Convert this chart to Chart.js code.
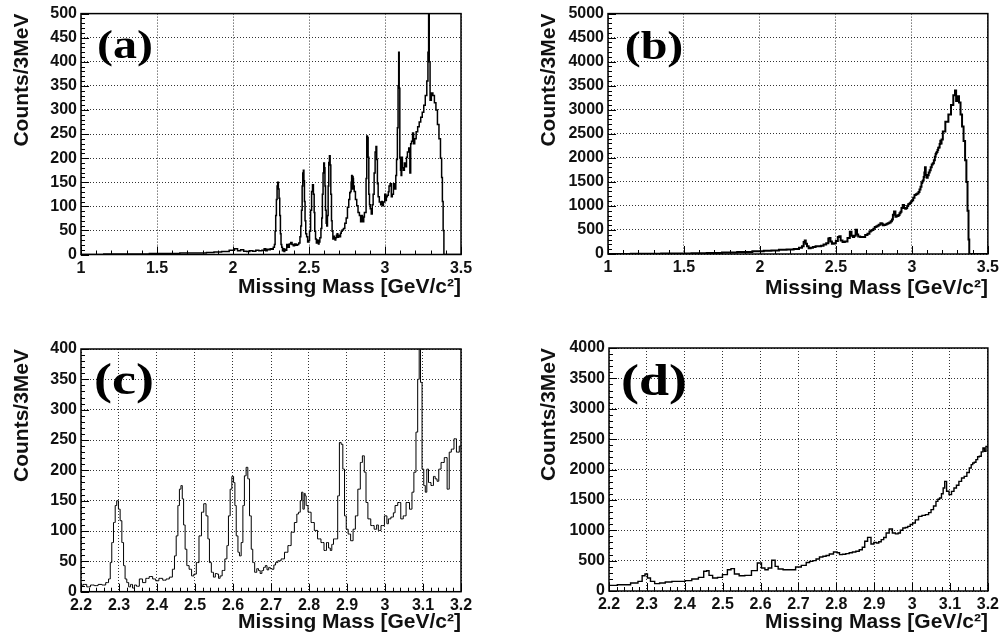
<!DOCTYPE html>
<html lang="en">
<head>
  <meta charset="UTF-8">
  <title>Missing mass spectra</title>
  <script src="https://cdn.jsdelivr.net/npm/chart.js"></script>
  <style>
    body { margin: 0; background: #fff; width: 1003px; height: 641px; position: relative; overflow: hidden; }
    canvas { position: absolute; }
  </style>
</head>
<body>
<canvas id="panelA" width="495" height="320" style="left:0;top:0"></canvas>
<canvas id="panelB" width="483" height="320" style="left:520px;top:0"></canvas>
<canvas id="panelC" width="495" height="311" style="left:0;top:330px"></canvas>
<canvas id="panelD" width="483" height="311" style="left:520px;top:330px"></canvas>

<script>
  // spectrum used in (a) and (c), counts per 3 MeV bin
  const massA = [
    1.00, 1.10, 1.20, 1.30, 1.40, 1.50, 1.60, 1.70, 1.80, 1.85, 1.90, 1.95,
    2.00, 2.02, 2.04, 2.06, 2.08, 2.10, 2.12, 2.14, 2.16, 2.18, 2.20, 2.21,
    2.22, 2.23, 2.24, 2.25, 2.26, 2.27, 2.275, 2.279, 2.283, 2.288, 2.292, 2.296,
    2.301, 2.305, 2.31, 2.314, 2.318, 2.323, 2.328, 2.333, 2.338, 2.343, 2.349, 2.358,
    2.366, 2.375, 2.384, 2.393, 2.40, 2.41, 2.42, 2.428, 2.437, 2.444, 2.448, 2.453,
    2.457, 2.461, 2.465, 2.468, 2.472, 2.476, 2.481, 2.488, 2.494, 2.50, 2.507, 2.514,
    2.52, 2.526, 2.532, 2.536, 2.54, 2.546, 2.551, 2.556, 2.56, 2.564, 2.568, 2.575,
    2.582, 2.586, 2.59, 2.595, 2.599, 2.604, 2.606, 2.611, 2.615, 2.619, 2.624, 2.628,
    2.632, 2.637, 2.641, 2.646, 2.65, 2.654, 2.66, 2.665, 2.669, 2.674, 2.678, 2.683,
    2.687, 2.692, 2.696, 2.70, 2.705, 2.71, 2.714, 2.722, 2.731, 2.74, 2.749, 2.757,
    2.766, 2.77, 2.775, 2.779, 2.782, 2.786, 2.789, 2.791, 2.794, 2.801, 2.81, 2.818,
    2.827, 2.836, 2.843, 2.849, 2.854, 2.858, 2.862, 2.867, 2.873, 2.878, 2.882, 2.887,
    2.891, 2.896, 2.90, 2.906, 2.913, 2.919, 2.925, 2.932, 2.938, 2.943, 2.948, 2.952,
    2.958, 2.967, 2.976, 2.98, 2.985, 2.994, 3.003, 3.007, 3.011, 3.02, 3.024, 3.029,
    3.038, 3.045, 3.051, 3.06, 3.069, 3.073, 3.079, 3.084, 3.088, 3.092, 3.095, 3.10,
    3.104, 3.108, 3.112, 3.117, 3.125, 3.13, 3.134, 3.14, 3.143, 3.152, 3.16, 3.167,
    3.171, 3.178, 3.185, 3.191, 3.20, 3.21, 3.22, 3.23, 3.24, 3.25, 3.26, 3.27,
    3.28, 3.285, 3.289, 3.293, 3.30, 3.31, 3.32, 3.33, 3.34, 3.35, 3.36, 3.37,
    3.375, 3.38, 3.385, 3.39, 3.50
  ];
  const countsA = [
    0, 0, 1, 1, 1, 2, 2, 3, 3, 4, 5, 6,
    9, 12, 8, 10, 7, 6, 8, 7, 9, 8, 9, 12,
    8, 11, 10, 12, 11, 15, 21, 48, 81, 114, 142, 150,
    136, 117, 81, 43, 21, 15, 8, 12, 6, 11, 9, 21,
    15, 22, 25, 21, 18, 22, 19, 21, 24, 37, 59, 92,
    142, 169, 175, 153, 110, 70, 43, 37, 26, 29, 48, 92,
    131, 145, 125, 87, 48, 32, 24, 30, 29, 22, 26, 35,
    54, 76, 125, 169, 190, 180, 142, 92, 65, 59, 81, 142,
    191, 205, 186, 125, 70, 48, 32, 38, 35, 30, 35, 40,
    43, 36, 40, 38, 37, 44, 48, 51, 54, 65, 76, 98,
    114, 128, 131, 150, 164, 136, 162, 158, 142, 131, 114, 101,
    87, 81, 68, 81, 72, 68, 78, 87, 87, 158, 246, 243,
    202, 125, 103, 95, 84, 103, 125, 169, 213, 224, 197, 147,
    120, 109, 103, 110, 101, 109, 125, 112, 120, 123, 130, 142,
    147, 120, 125, 147, 136, 164, 197, 263, 350, 420, 345, 202,
    175, 164, 202, 180, 175, 190, 186, 182, 202, 213, 221, 169,
    230, 235, 252, 230, 240, 255, 265, 275, 285, 295, 310, 330,
    360, 420, 520, 400, 320, 335, 330, 315, 300, 270, 240, 200,
    160, 110, 50, 0, 0
  ];

  // spectrum used in (b) and (d)
  const massB = [
    1.00, 1.10, 1.20, 1.30, 1.40, 1.50, 1.60, 1.70, 1.80, 1.90, 2.00, 2.05,
    2.10, 2.15, 2.20, 2.244, 2.27, 2.283, 2.292, 2.298, 2.305, 2.314, 2.327, 2.34,
    2.357, 2.375, 2.392, 2.41, 2.427, 2.445, 2.455, 2.461, 2.467, 2.48, 2.493, 2.506,
    2.519, 2.525, 2.537, 2.55, 2.567, 2.585, 2.598, 2.607, 2.616, 2.624, 2.635, 2.642,
    2.651, 2.668, 2.686, 2.699, 2.716, 2.725, 2.734, 2.742, 2.751, 2.76, 2.769, 2.777,
    2.786, 2.799, 2.805, 2.812, 2.82, 2.83, 2.838, 2.847, 2.856, 2.865, 2.872, 2.878,
    2.887, 2.896, 2.902, 2.909, 2.915, 2.922, 2.928, 2.935, 2.944, 2.952, 2.96, 2.966,
    2.972, 2.979, 2.985, 2.992, 2.998, 3.005, 3.012, 3.022, 3.03, 3.04, 3.047, 3.053,
    3.06, 3.066, 3.07, 3.075, 3.08, 3.084, 3.088, 3.094, 3.101, 3.107, 3.114, 3.12,
    3.127, 3.134, 3.141, 3.148, 3.154, 3.158, 3.162, 3.166, 3.171, 3.175, 3.18, 3.185,
    3.189, 3.193, 3.197, 3.21, 3.23, 3.25, 3.265, 3.28, 3.287, 3.295, 3.305, 3.315,
    3.325, 3.335, 3.345, 3.355, 3.362, 3.37, 3.375, 3.38, 3.50
  ];
  const countsB = [
    0, 1, 3, 5, 8, 11, 16, 22, 30, 42, 55, 65,
    75, 88, 93, 104, 132, 159, 252, 280, 214, 159, 121, 132,
    148, 159, 159, 170, 198, 225, 324, 335, 258, 214, 225, 269,
    351, 368, 280, 252, 258, 335, 461, 379, 351, 379, 505, 406,
    362, 351, 351, 395, 422, 470, 488, 500, 527, 560, 571, 585,
    609, 642, 630, 598, 605, 615, 630, 642, 655, 680, 720, 818,
    883, 774, 800, 790, 810, 845, 880, 955, 1021, 955, 940, 955,
    1000, 1037, 1045, 1064, 1095, 1119, 1170, 1229, 1245, 1257, 1290, 1339,
    1400, 1476, 1510, 1531, 1600, 1695, 1805, 1641, 1586, 1640, 1695, 1740,
    1805, 1860, 1887, 1950, 2025, 2080, 2107, 2120, 2162, 2210, 2217, 2290,
    2354, 2300, 2381, 2550, 2750, 2900, 3100, 3300, 3400, 3180, 3280, 3150,
    2900, 2650, 2350, 1950, 1500, 900, 300, 0, 0
  ];

  const labels = ['(a)', '(b)', '(c)', '(d)'];
  const xRanges = [[1, 3.5], [1, 3.5], [2.2, 3.2], [2.2, 3.2]];
  const yRanges = [[0, 500], [0, 5000], [0, 400], [0, 4000]];
  const xSteps = [0.5, 0.5, 0.1, 0.1];
  const xMinorSteps = [0.1, 0.1, 0.02, 0.02];
  const ySteps = [50, 500, 50, 500];
  const yMinorSteps = [10, 100, 10, 100];

  const sansFont = "'Liberation Sans', Arial, Helvetica, sans-serif";

  // ROOT-like frame, inner ticks and panel label
  const rootFrame = {
    id: 'rootFrame',
    afterDatasetsDraw(chart, args, opts) {
      const { ctx, chartArea: a, scales } = chart;
      const xs = scales.x, ys = scales.y;
      ctx.save();
      ctx.strokeStyle = '#000';
      ctx.lineWidth = 1;
      const nx = Math.round((xs.max - xs.min) / opts.xMinor);
      for (let i = 0; i <= nx; i++) {
        const v = xs.min + i * opts.xMinor;
        const major = Math.abs(v / opts.xMajor - Math.round(v / opts.xMajor)) < 1e-6;
        const px = Math.round(xs.getPixelForValue(v)) + 0.5;
        ctx.beginPath();
        ctx.moveTo(px, a.bottom);
        ctx.lineTo(px, a.bottom - (major ? 8 : 4));
        ctx.stroke();
      }
      const ny = Math.round((ys.max - ys.min) / opts.yMinor);
      for (let i = 0; i <= ny; i++) {
        const v = ys.min + i * opts.yMinor;
        const major = v % opts.yMajor === 0;
        const py = Math.round(ys.getPixelForValue(v)) + 0.5;
        ctx.beginPath();
        ctx.moveTo(a.left, py);
        ctx.lineTo(a.left + (major ? 8 : 4), py);
        ctx.stroke();
      }
      ctx.lineWidth = 1.5;
      ctx.strokeRect(a.left, a.top, a.right - a.left, a.bottom - a.top);

      // panel tag, Times bold, a little wide like the original
      ctx.fillStyle = '#000';
      ctx.font = 'bold ' + opts.tagSize + "px 'Liberation Serif', 'Times New Roman', serif";
      ctx.textAlign = 'center';
      ctx.textBaseline = 'middle';
      ctx.translate(a.left + opts.tagX, a.top + opts.tagY);
      ctx.scale(1.2, 1);
      ctx.fillText(opts.tag, 0, 0);
      ctx.restore();
    }
  };

  function makePanel(idx, canvasId, box, plot, yTitleX, xTitleY, lineWidth, tag) {
    const mass = idx % 2 === 0 ? massA : massB;
    const counts = idx % 2 === 0 ? countsA : countsB;
    const points = mass.map((m, i) => ({ x: m, y: counts[i] }));
    const axisWidth = plot.left - box.left;
    const axisHeight = box.top + box.height - plot.bottom;
    const titleFont = { family: sansFont, size: 21, weight: 'bold', lineHeight: 1.2 };
    const tickFont = { family: sansFont, size: 16, weight: 'bold' };

    return new Chart(document.getElementById(canvasId), {
      type: 'line',
      data: {
        datasets: [{
          data: points,
          borderColor: '#000',
          borderWidth: lineWidth,
          pointRadius: 0,
          stepped: 'middle',
          fill: false,
          clip: 0
        }]
      },
      options: {
        responsive: false,
        animation: false,
        devicePixelRatio: 1,
        layout: {
          padding: {
            left: 0,
            bottom: 0,
            top: plot.top - box.top,
            right: box.left + box.width - plot.right
          }
        },
        plugins: {
          legend: { display: false },
          tooltip: { enabled: false },
          rootFrame: {
            tag: tag.text, tagX: tag.x, tagY: tag.y, tagSize: tag.size,
            xMajor: xSteps[idx], xMinor: xMinorSteps[idx],
            yMajor: ySteps[idx], yMinor: yMinorSteps[idx]
          }
        },
        scales: {
          x: {
            type: 'linear',
            min: xRanges[idx][0],
            max: xRanges[idx][1],
            afterFit: (s) => { s.height = axisHeight; },
            grid: { color: '#333', lineWidth: 1, drawTicks: false },
            border: { display: false, dash: [1, 2] },
            ticks: {
              stepSize: xSteps[idx],
              autoSkip: false,
              maxRotation: 0,
              padding: 4,
              color: '#111',
              font: tickFont,
              callback: (v) => String(Math.round(v * 10) / 10)
            },
            title: {
              display: true,
              text: 'Missing Mass [GeV/c²]',
              align: 'end',
              color: '#111',
              font: titleFont,
              padding: { top: 0, bottom: box.top + box.height - xTitleY - 12.6 }
            }
          },
          y: {
            min: yRanges[idx][0],
            max: yRanges[idx][1],
            afterFit: (s) => { s.width = axisWidth; },
            grid: { color: '#333', lineWidth: 1, drawTicks: false },
            border: { display: false, dash: [1, 2] },
            ticks: {
              stepSize: ySteps[idx],
              padding: 4,
              color: '#111',
              font: tickFont,
              callback: (v) => String(v)
            },
            title: {
              display: true,
              text: 'Counts/3MeV',
              align: 'end',
              color: '#111',
              font: titleFont,
              padding: { top: yTitleX - box.left - 12.6, bottom: 0 }
            }
          }
        }
      },
      plugins: [rootFrame]
    });
  }

  makePanel(0, 'panelA',
    { left: 0, top: 0, width: 495, height: 320 },
    { left: 81, top: 12, right: 461, bottom: 254.5 },
    22, 287.5, 1.5, { text: labels[0], x: 44, y: 34, size: 40 });
  makePanel(1, 'panelB',
    { left: 520, top: 0, width: 483, height: 320 },
    { left: 608, top: 12, right: 990, bottom: 254 },
    549, 288, 2, { text: labels[1], x: 46, y: 35, size: 40 });
  makePanel(2, 'panelC',
    { left: 0, top: 330, width: 495, height: 311 },
    { left: 81, top: 349, right: 461, bottom: 591.7 },
    22, 622, 1, { text: labels[2], x: 43, y: 33, size: 45 });
  makePanel(3, 'panelD',
    { left: 520, top: 330, width: 483, height: 311 },
    { left: 609, top: 348, right: 990, bottom: 591 },
    549, 622, 1.4, { text: labels[3], x: 45, y: 35, size: 45 });
</script>
</body>
</html>
